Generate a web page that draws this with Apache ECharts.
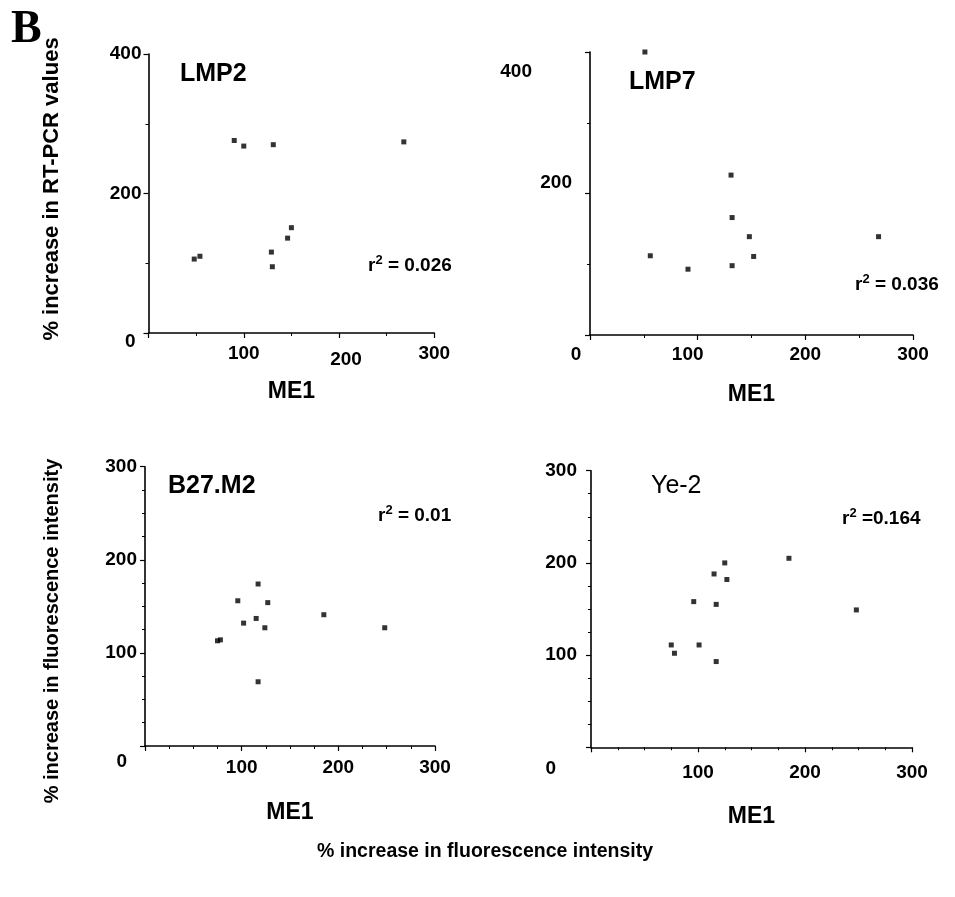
<!DOCTYPE html>
<html><head><meta charset="utf-8">
<script src="https://cdn.jsdelivr.net/npm/echarts@6/dist/echarts.min.js"></script>
<style>html,body{margin:0;padding:0;background:#fff}#c{width:955px;height:897px}</style>
</head><body><div id="c"></div>
<script>
// ---- data ----
const lmp2X = [48, 54, 90, 100, 131, 129, 130, 146, 150, 268];
const lmp2Y = [106, 110, 276, 268, 270, 116, 95, 136, 151, 274];
const lmp7X = [51, 56, 91, 131, 132, 132, 148, 152, 268];
const lmp7Y = [400, 112, 93, 226, 166, 98, 139, 111, 139];
const b27X = [75, 78, 96, 102, 115, 117, 117, 124, 127, 185, 248];
const b27Y = [113, 114, 156, 132, 137, 174, 69, 127, 154, 141, 127];
const ye2X = [75, 78, 96, 101, 115, 117, 117, 125, 127, 185, 248];
const ye2Y = [111, 102, 158, 111, 188, 155, 93, 200, 182, 205, 149];
const panelNames = ['LMP2', 'LMP7', 'B27.M2', 'Ye-2'];
const r2Values = ['0.026', '0.036', '0.01', '0.164'];
const r2Sep = [' = ', ' = ', ' = ', ' ='];
const xTickLabels = [0, 100, 200, 300];
const yTickLabelsTop = [0, 200, 400];
const yTickLabelsBottom = [0, 100, 200, 300];
const xAxisName = 'ME1';
const yTitleTop = '% increase in RT-PCR values';
const yTitleBottom = '% increase in fluorescence intensity';
const xTitleBottom = '% increase in fluorescence intensity';
const panelLetter = 'B';

const FF = '"Liberation Sans", Arial, Helvetica, sans-serif';
const base = {fontSize: 19, fontWeight: 'bold', fontFamily: FF, color: '#000'};
function zip(a, b) { return a.map((v, i) => [v, b[i]]); }

function fmt(shown, styleMap) {
  return function (v) {
    if (shown.indexOf(v) < 0) return '';
    const s = styleMap[v] || 'n';
    return '{' + s + '|' + v + '}';
  };
}
function rich(extra) {
  const r = {n: Object.assign({}, base)};
  for (const k in extra) r[k] = Object.assign({}, base, extra[k]);
  return r;
}

const grids = [
  {left: 148.5, top: 54, width: 285.8, height: 279},
  {left: 590, top: 52, width: 323, height: 283},
  {left: 145, top: 466.7, width: 290, height: 279.3},
  {left: 591, top: 470.7, width: 321, height: 276.6}
];

const axisLine = {show: true, onZero: false, lineStyle: {color: '#000', width: 1.6}};
const axisTick = {show: true, inside: false, length: 5, lineStyle: {color: '#000', width: 1.2}};

function xAx(i, shown, styleMap, extraRich, margin, nameGap, minorSplit) {
  return {
    type: 'value', gridIndex: i, min: 0, max: 300, interval: 100,
    axisLine, axisTick, splitLine: {show: false},
    minorTick: {show: true, splitNumber: minorSplit, length: 3, lineStyle: {color: '#000', width: 1}},
    axisLabel: {margin, formatter: fmt(shown, styleMap), rich: rich(extraRich)},
    name: xAxisName, nameLocation: 'middle', nameGap,
    nameTextStyle: {fontSize: 23, fontWeight: 'bold', fontFamily: FF, color: '#000'}
  };
}
function yAx(i, max, interval, shown, styleMap, extraRich, margin, minorSplit) {
  return {
    type: 'value', gridIndex: i, min: 0, max, interval,
    axisLine, axisTick, splitLine: {show: false},
    minorTick: {show: true, splitNumber: minorSplit, length: 3, lineStyle: {color: '#000', width: 1}},
    axisLabel: {margin, formatter: fmt(shown, styleMap), rich: rich(extraRich)}
  };
}

const xAxes = [
  xAx(0, xTickLabels.slice(1), {200: 's'}, {s: {padding: [6, 0, 0, 14]}}, 11, 47, 2),
  xAx(1, xTickLabels, {0: 'z', 100: 's'}, {z: {padding: [0, 28, 0, 0]}, s: {padding: [0, 20, 0, 0]}}, 10, 48, 2),
  xAx(2, xTickLabels.slice(1), {}, {}, 12, 55, 4),
  xAx(3, xTickLabels.slice(1), {}, {}, 16, 58, 4)
];
const yAxes = [
  yAx(0, 400, 200, yTickLabelsTop, {0: 'z'}, {z: {padding: [18, 6, 0, 0]}}, 7, 2),
  yAx(1, 400, 200, yTickLabelsTop.slice(1), {200: 's', 400: 't'}, {s: {padding: [0, 10, 22, 0]}, t: {padding: [40, 50, 0, 0]}}, 8, 2),
  yAx(2, 300, 100, yTickLabelsBottom, {0: 'z'}, {z: {padding: [32, 10, 0, 0]}}, 8, 4),
  yAx(3, 300, 100, yTickLabelsBottom, {0: 'z'}, {z: {padding: [42, 21, 0, 0]}}, 14, 4)
];

const seriesData = [zip(lmp2X, lmp2Y), zip(lmp7X, lmp7Y), zip(b27X, b27Y), zip(ye2X, ye2Y)];
const series = seriesData.map((d, i) => ({
  type: 'scatter', xAxisIndex: i, yAxisIndex: i, data: d,
  symbol: 'rect', symbolSize: 5, itemStyle: {color: '#000'}, silent: true
}));

const titlePos = [[180, 74, 'bold'], [629, 82, 'bold'], [168, 486, 'bold'], [651, 486, 'normal']];
const r2Pos = [[368, 266], [855, 285], [378, 516], [842, 519]];

const graphics = [];
graphics.push({type: 'text', x: 11, y: 30, style: {text: panelLetter, fontSize: 46, fontWeight: 'bold',
  fontFamily: '"Liberation Serif", "Times New Roman", serif', fill: '#000', align: 'left', verticalAlign: 'middle'}});
panelNames.forEach((t, i) => {
  graphics.push({type: 'text', x: titlePos[i][0], y: titlePos[i][1], style: {text: t, fontSize: 25,
    fontWeight: titlePos[i][2], fontFamily: FF, fill: '#000', align: 'left', verticalAlign: 'middle'}});
});
r2Values.forEach((t, i) => {
  graphics.push({type: 'text', x: r2Pos[i][0], y: r2Pos[i][1], style: {
    text: '{a|r}{b|2}{a|' + r2Sep[i] + t + '}',
    rich: {a: {fontSize: 19, fontWeight: 'bold', fontFamily: FF, fill: '#000', color: '#000'},
           b: {fontSize: 13, fontWeight: 'bold', fontFamily: FF, fill: '#000', color: '#000', padding: [0, 0, 12, 0]}},
    align: 'left', verticalAlign: 'middle'}});
});
graphics.push({type: 'text', x: 52, y: 189, rotation: Math.PI / 2, style: {text: yTitleTop, fontSize: 22,
  fontWeight: 'bold', fontFamily: FF, fill: '#000', align: 'center', verticalAlign: 'middle'}});
graphics.push({type: 'text', x: 52, y: 631, rotation: Math.PI / 2, style: {text: yTitleBottom, fontSize: 20,
  fontWeight: 'bold', fontFamily: FF, fill: '#000', align: 'center', verticalAlign: 'middle'}});
graphics.push({type: 'text', x: 485, y: 852, style: {text: xTitleBottom, fontSize: 19.5,
  fontWeight: 'bold', fontFamily: FF, fill: '#000', align: 'center', verticalAlign: 'middle'}});

const chart = echarts.init(document.getElementById('c'), null, {renderer: 'canvas'});
chart.setOption({
  animation: false,
  backgroundColor: '#fff',
  grid: grids,
  xAxis: xAxes,
  yAxis: yAxes,
  series,
  graphic: graphics
});
</script>
</body></html>
